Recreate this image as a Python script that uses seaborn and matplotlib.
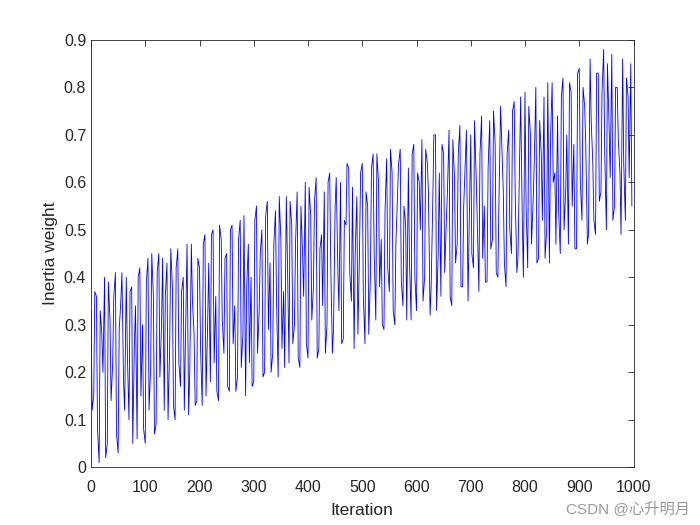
import matplotlib
matplotlib.use("Agg")
import matplotlib.pyplot as plt
import seaborn as sns
import pandas as pd

iter_a = list(range(0, 1000, 5))
weights_a = [
0.33,0.15,0.36,0.01,0.28,0.40,0.05,0.31,0.22,0.41,0.03,0.35,0.18,0.40,0.10,0.38,0.26,0.06,0.42,0.30,
0.05,0.44,0.21,0.36,0.09,0.45,0.30,0.12,0.43,0.25,0.38,0.10,0.46,0.17,0.40,0.33,0.11,0.47,0.28,0.14,
0.42,0.13,0.49,0.30,0.18,0.50,0.36,0.14,0.48,0.24,0.45,0.16,0.51,0.34,0.19,0.52,0.28,0.15,0.47,0.40,
0.18,0.55,0.33,0.50,0.20,0.56,0.43,0.24,0.54,0.19,0.48,0.37,0.57,0.22,0.51,0.30,0.58,0.21,0.45,0.60,
0.23,0.53,0.38,0.61,0.25,0.49,0.58,0.30,0.62,0.24,0.55,0.42,0.60,0.27,0.51,0.63,0.35,0.25,0.57,0.46,
0.64,0.26,0.55,0.40,0.66,0.31,0.60,0.48,0.29,0.65,0.37,0.62,0.30,0.57,0.67,0.34,0.51,0.63,0.31,0.68,
0.33,0.60,0.69,0.40,0.64,0.32,0.56,0.70,0.45,0.36,0.66,0.52,0.71,0.34,0.61,0.47,0.72,0.38,0.65,0.35,
0.70,0.42,0.61,0.37,0.74,0.55,0.39,0.73,0.48,0.68,0.40,0.76,0.58,0.38,0.71,0.45,0.77,0.41,0.64,0.52,
0.79,0.42,0.70,0.56,0.80,0.44,0.66,0.78,0.50,0.43,0.81,0.62,0.74,0.45,0.82,0.58,0.47,0.79,0.68,0.46,
0.84,0.52,0.76,0.47,0.86,0.64,0.49,0.83,0.58,0.88,0.50,0.72,0.87,0.55,0.80,0.62,0.86,0.52,0.78,0.85,
]
iter_b = list(range(2, 1000, 5))
weights_b = [
0.12,0.37,0.08,0.33,0.20,0.02,0.39,0.14,0.36,0.07,0.29,0.41,0.12,0.24,0.37,0.05,0.34,0.40,0.15,0.08,
0.39,0.12,0.45,0.07,0.41,0.19,0.44,0.36,0.10,0.46,0.13,0.42,0.22,0.37,0.12,0.47,0.20,0.35,0.13,0.44,
0.25,0.47,0.15,0.43,0.49,0.22,0.16,0.51,0.31,0.44,0.17,0.50,0.26,0.16,0.48,0.21,0.53,0.38,0.22,0.17,
0.52,0.24,0.45,0.19,0.53,0.29,0.20,0.47,0.35,0.57,0.25,0.21,0.44,0.56,0.26,0.47,0.23,0.55,0.36,0.26,
0.59,0.31,0.56,0.23,0.46,0.34,0.24,0.60,0.42,0.29,0.61,0.33,0.26,0.52,0.64,0.41,0.59,0.45,0.28,0.62,
0.36,0.58,0.28,0.63,0.45,0.66,0.38,0.30,0.54,0.42,0.67,0.33,0.47,0.64,0.39,0.55,0.31,0.44,0.66,0.40,
0.62,0.50,0.35,0.67,0.58,0.38,0.70,0.33,0.62,0.68,0.41,0.58,0.36,0.69,0.43,0.66,0.38,0.55,0.71,0.50,
0.45,0.73,0.52,0.66,0.44,0.39,0.63,0.46,0.75,0.41,0.56,0.69,0.43,0.66,0.50,0.75,0.57,0.44,0.78,0.40,
0.55,0.76,0.47,0.64,0.43,0.73,0.52,0.44,0.81,0.69,0.60,0.47,0.54,0.78,0.50,0.70,0.81,0.55,0.46,0.83,
0.60,0.80,0.68,0.49,0.73,0.52,0.83,0.56,0.79,0.66,0.85,0.61,0.52,0.80,0.69,0.49,0.64,0.82,0.61,0.55,
]
xticks = list(range(0, 1001, 100))
yticks = [0, 0.1, 0.2, 0.3, 0.4, 0.5, 0.6, 0.7, 0.8, 0.9]

sns.set_style("white")
plt.rcParams['font.family'] = ['Liberation Sans', 'Noto Sans CJK SC', 'DejaVu Sans']

df = pd.DataFrame({"Iteration": iter_a + iter_b, "w": weights_a + weights_b}).sort_values("Iteration")
fig = plt.figure(figsize=(7, 5.25), dpi=100)
ax = fig.add_axes([0.13, 0.11, 0.775, 0.814])
ax.plot(df["Iteration"], df["w"], color="#0000ff", linewidth=0.6)
ax.set_xlim(0, 1000)
ax.set_ylim(0, 0.9)
ax.set_xticks(xticks)
ax.set_yticks(yticks)
ax.set_yticklabels(["0"] + [f"{v:g}" for v in yticks[1:]])
ax.tick_params(direction="in", length=4, labelsize=11.5, top=True, right=True, width=0.6)
ax.tick_params(axis="x", pad=9)
for s in ax.spines.values():
    s.set_linewidth(0.6)
    s.set_color("#262626")
ax.set_xlabel("Iteration", fontsize=12.5, labelpad=6)
ax.set_ylabel("Inertia weight", fontsize=12.5)
fig.text(0.985, 0.015, "CSDN @心升明月", ha="right", va="bottom", fontsize=11, color="#999999")
fig.savefig("out.png", dpi=100)
